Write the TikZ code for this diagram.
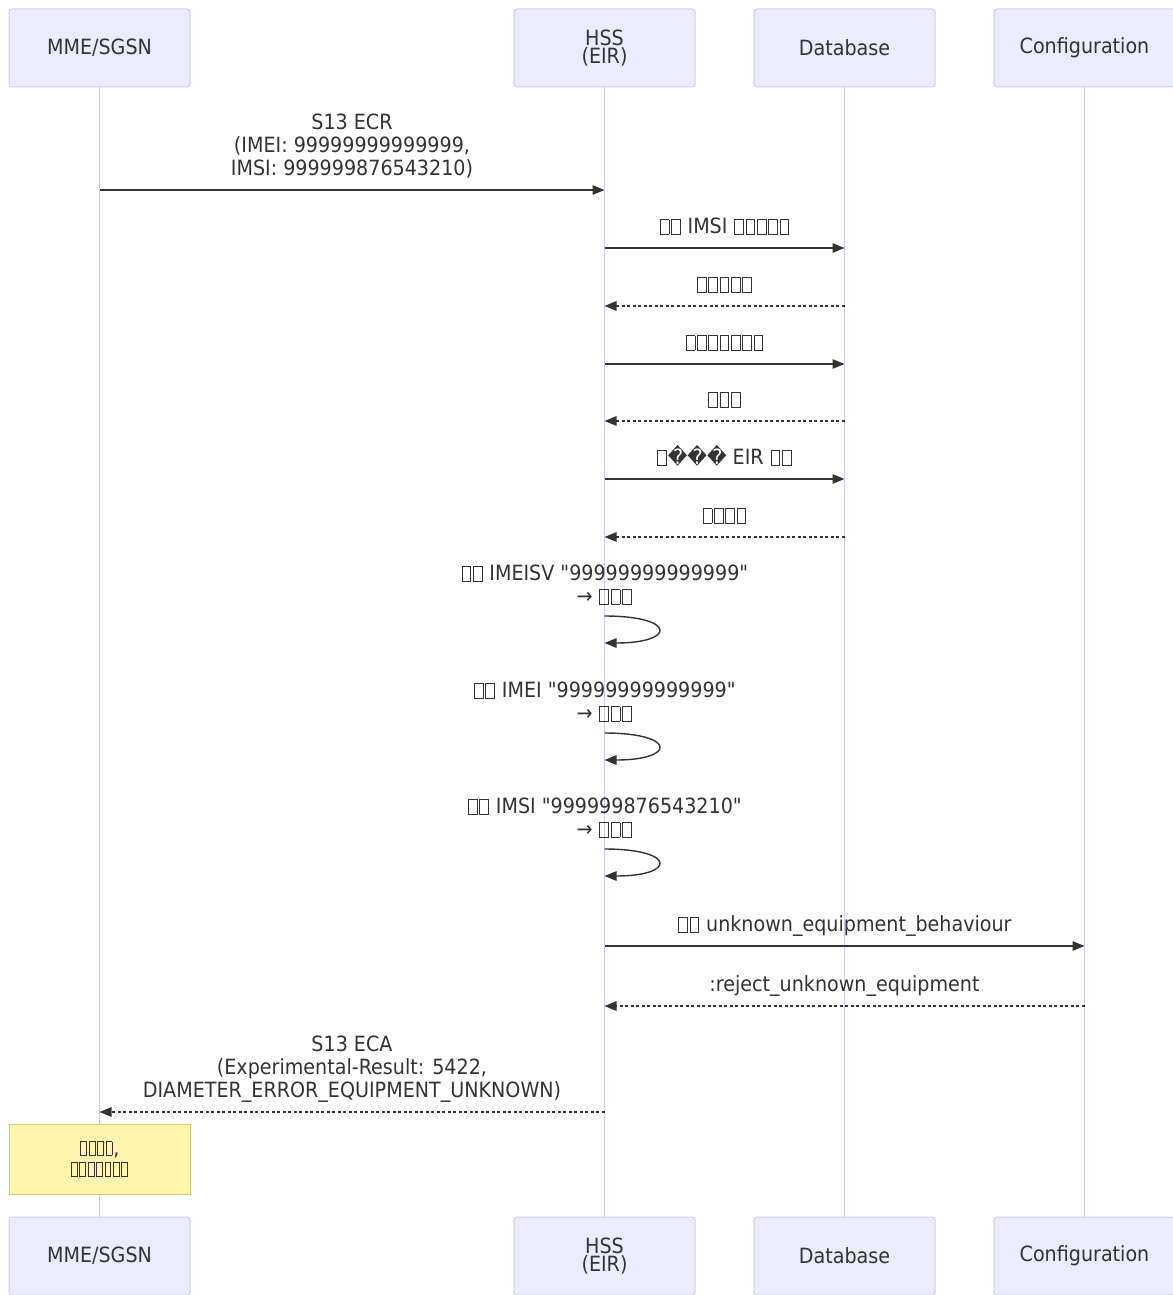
\documentclass[tikz,border=0pt]{standalone}
\usepackage{fontspec}
\setmainfont[FakeStretch=0.91,Ligatures=TeXOff]{DejaVu Sans}
\usetikzlibrary{arrows.meta}
\definecolor{actfill}{HTML}{ECECFF}
\definecolor{actline}{RGB}{212,200,242}
\definecolor{txt}{HTML}{333333}
\definecolor{notefill}{HTML}{FFF5AD}
\definecolor{noteline}{RGB}{214,202,110}
\newcommand\tofubox[1]{\kern0.8pt\lower0.6pt\vbox{\hrule height0.9pt\hbox{\vrule width0.9pt height13.2pt\kern#1\vrule width0.9pt}\hrule height0.9pt}\kern0.8pt}
\newcommand\tf{\tofubox{7.9pt}}
\newcommand\tfn{\tofubox{5pt}}
\begin{document}
\begin{tikzpicture}[x=1pt,y=-1pt,
  font=\fontsize{21}{23}\selectfont, text=txt,
  actor/.style={draw=actline, fill=actfill, rounded corners=3pt, minimum width=181pt, minimum height=78pt, line width=1pt, inner sep=0pt, align=center, font=\fontsize{21}{18}\selectfont},
  life/.style={draw=actline, line width=1.3pt},
  msg/.style={draw=txt, line width=1.4pt, -{Triangle[length=12pt,width=9.5pt]}},
  reply/.style={msg, dash pattern=on 3pt off 2.5pt},
  lbl/.style={anchor=south, inner sep=0pt, text depth=0pt, align=center},
  note/.style={draw=noteline, fill=notefill, line width=1pt, minimum width=181pt, minimum height=70pt, inner sep=0pt, align=center, text=txt, font=\fontsize{21}{21}\selectfont}]
\useasboundingbox (0,0) rectangle (1172,1295);
\fill[white] (0,0) rectangle (1172,1295);
% actors
\node[actor] (mmeT) at (99.5,48) {MME/SGSN};
\node[actor] (hssT) at (604.5,48) {HSS\\(EIR)};
\node[actor] (dbT) at (844.5,48) {Database};
\node[actor] (cfgT) at (1084.5,48) {Configuration};
\node[actor] (mmeB) at (99.5,1256) {MME/SGSN};
\node[actor] (hssB) at (604.5,1256) {HSS\\(EIR)};
\node[actor] (dbB) at (844.5,1256) {Database};
\node[actor] (cfgB) at (1084.5,1256) {Configuration};
% lifelines
\draw[life] (mmeT) -- (mmeB);
\draw[life] (hssT) -- (hssB);
\draw[life] (dbT) -- (dbB);
\draw[life] (cfgT) -- (cfgB);
% message 1
\coordinate (m1a) at (mmeT |- 0,190);
\coordinate (m1b) at (hssT |- 0,190);
\draw[msg] (m1a) -- (m1b);
\node[lbl] (t1) at (352,176) {S13 ECR\\(IMEI: 99999999999999,\\IMSI: 999999876543210)};
% message 2
\coordinate (m2a) at (hssT |- 0,248);
\coordinate (m2b) at (dbT |- 0,248);
\draw[msg] (m2a) -- (m2b);
\node[lbl] (t2) at (724.5,234) {\tf\tf{} IMSI \tf\tf\tf\tf\tf};
% message 3
\coordinate (m3a) at (dbT |- 0,306);
\coordinate (m3b) at (hssT |- 0,306);
\draw[reply] (m3a) -- (m3b);
\node[lbl] (t3) at (724.5,292) {\tf\tf\tf\tf\tf};
% message 4
\coordinate (m4a) at (hssT |- 0,364);
\coordinate (m4b) at (dbT |- 0,364);
\draw[msg] (m4a) -- (m4b);
\node[lbl] (t4) at (724.5,350) {\tf\tf\tf\tf\tf\tf\tf};
% message 5
\coordinate (m5a) at (dbT |- 0,421);
\coordinate (m5b) at (hssT |- 0,421);
\draw[reply] (m5a) -- (m5b);
\node[lbl] (t5) at (724.5,407) {\tf\tf\tf};
% message 6
\coordinate (m6a) at (hssT |- 0,479);
\coordinate (m6b) at (dbT |- 0,479);
\draw[msg] (m6a) -- (m6b);
\node[lbl] (t6) at (724.5,465) {\tf���{} EIR \tf\tf};
% message 7
\coordinate (m7a) at (dbT |- 0,537);
\coordinate (m7b) at (hssT |- 0,537);
\draw[reply] (m7a) -- (m7b);
\node[lbl] (t7) at (724.5,523) {\tf\tf\tf\tf};
% self 1
\node[lbl] (t8) at (604.5,604) {\tf\tf{} IMEISV "99999999999999"\\→ \tf\tf\tf};
\coordinate (s1a) at (hssT |- 0,616);
\coordinate (s1b) at (hssT |- 0,643);
\draw[msg] (s1a) .. controls +(72,0) and +(72,0) .. (s1b);
% self 2
\node[lbl] (t9) at (604.5,721) {\tf\tf{} IMEI "99999999999999"\\→ \tf\tf\tf};
\coordinate (s2a) at (hssT |- 0,733);
\coordinate (s2b) at (hssT |- 0,760);
\draw[msg] (s2a) .. controls +(72,0) and +(72,0) .. (s2b);
% self 3
\node[lbl] (t10) at (604.5,837) {\tf\tf{} IMSI "999999876543210"\\→ \tf\tf\tf};
\coordinate (s3a) at (hssT |- 0,849);
\coordinate (s3b) at (hssT |- 0,876);
\draw[msg] (s3a) .. controls +(72,0) and +(72,0) .. (s3b);
% message 11
\coordinate (m11a) at (hssT |- 0,946);
\coordinate (m11b) at (cfgT |- 0,946);
\draw[msg] (m11a) -- (m11b);
\node[lbl] (t11) at (844.5,932) {\tf\tf{} unknown\_equipment\_behaviour};
% message 12
\coordinate (m12a) at (cfgT |- 0,1006);
\coordinate (m12b) at (hssT |- 0,1006);
\draw[reply] (m12a) -- (m12b);
\node[lbl] (t12) at (844.5,992) {:reject\_unknown\_equipment};
% message 13
\coordinate (m13a) at (hssT |- 0,1112);
\coordinate (m13b) at (mmeT |- 0,1112);
\draw[reply] (m13a) -- (m13b);
\node[lbl] (t13) at (352,1098) {S13 ECA\\(Experimental-Result: 5422,\\DIAMETER\_ERROR\_EQUIPMENT\_UNKNOWN)};
% note
\node[note] (nt) at (99.5,1159) {\tfn\tfn\tfn\tfn,\\\tfn\tfn\tfn\tfn\tfn\tfn\tfn};
\end{tikzpicture}
\end{document}
